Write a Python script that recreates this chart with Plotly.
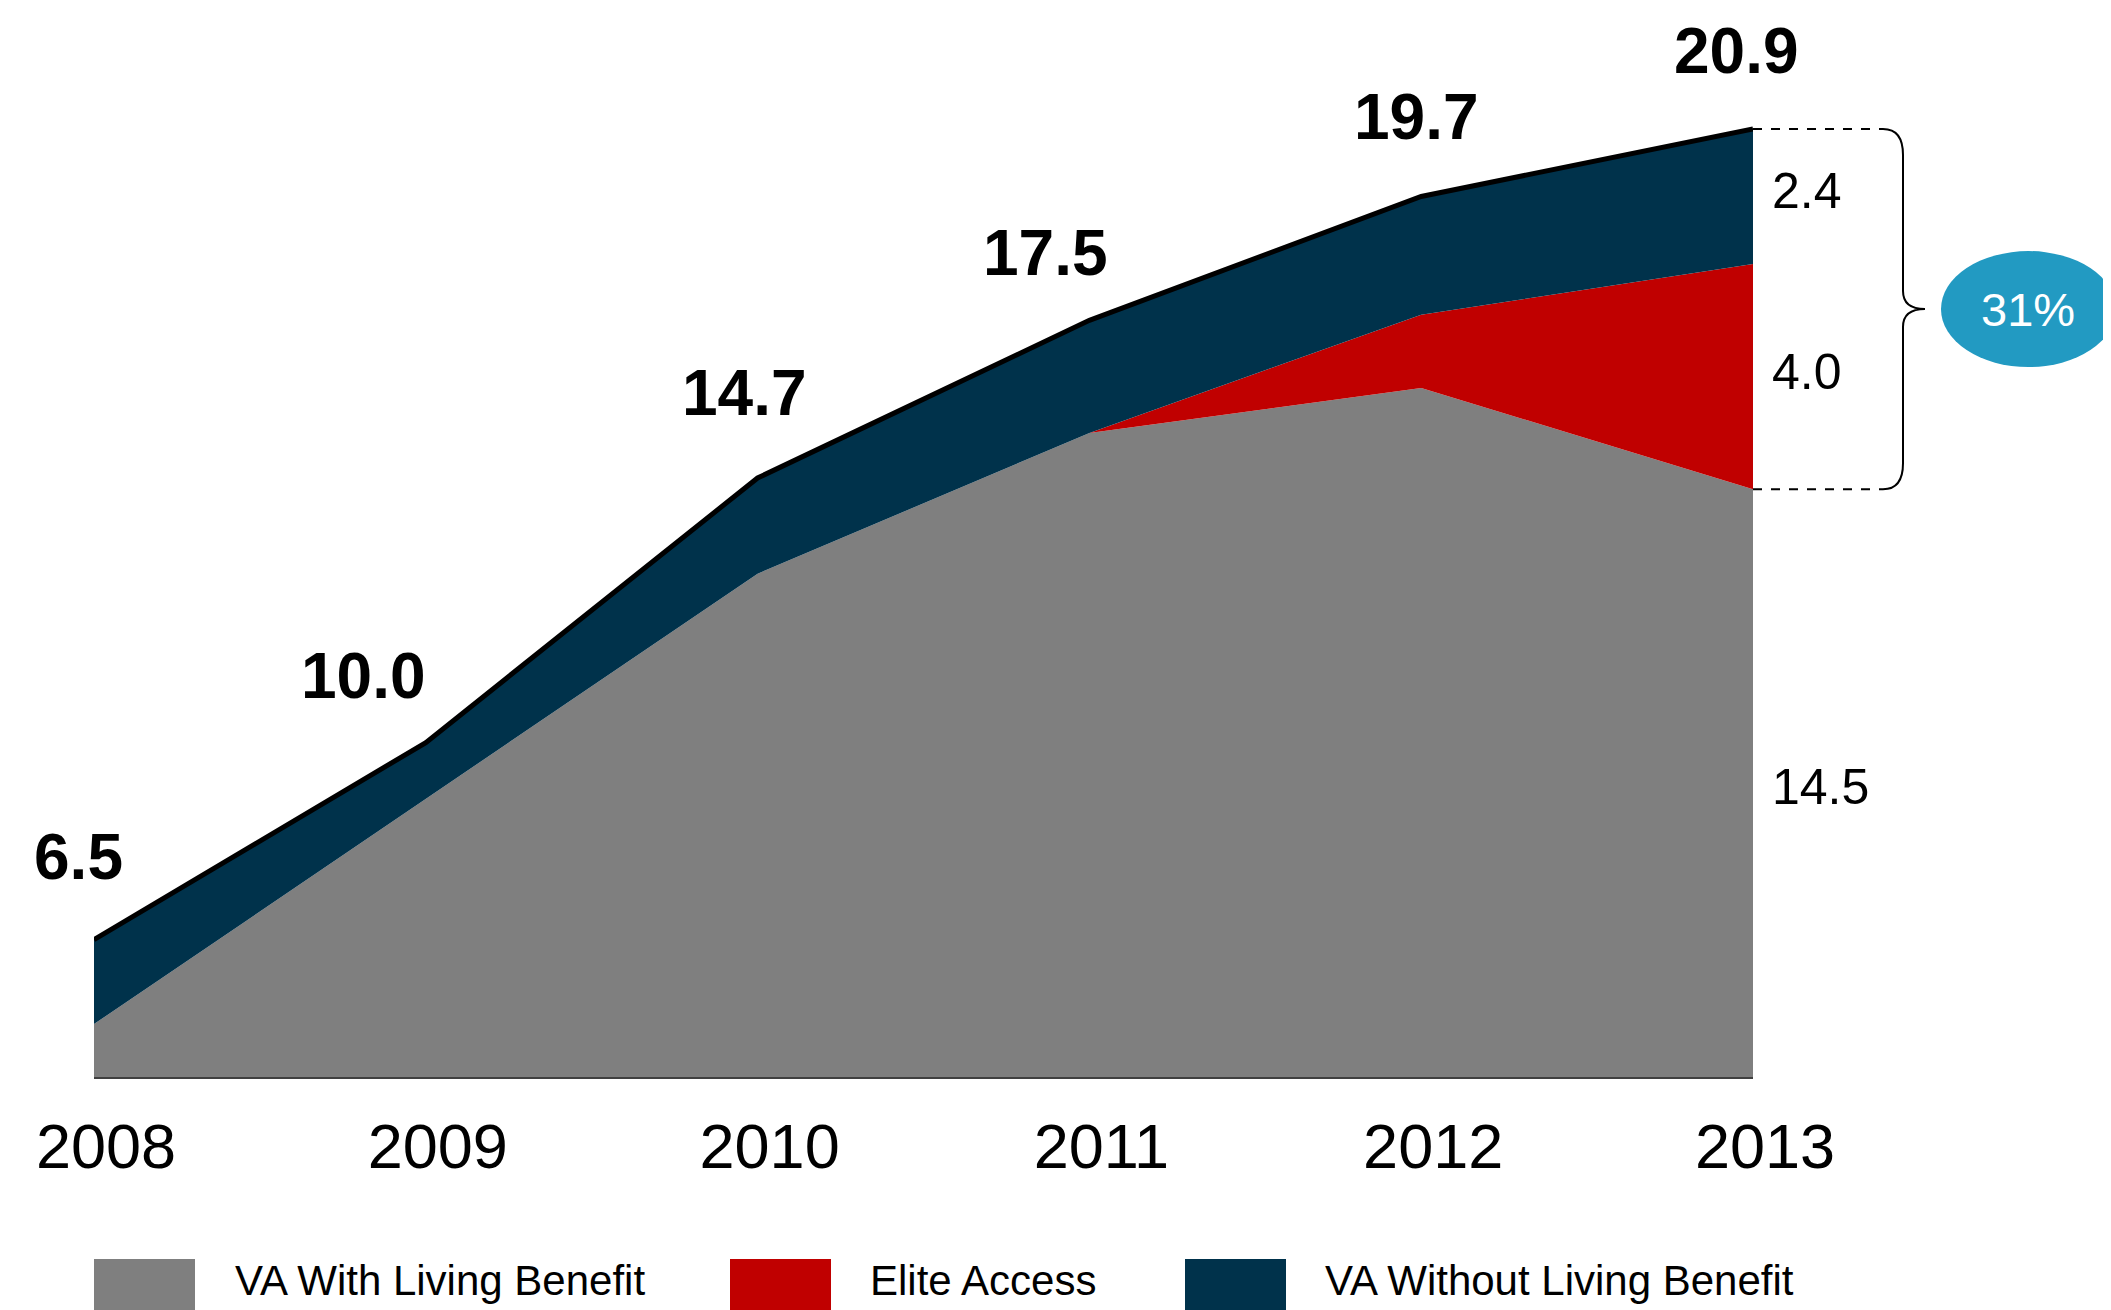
import plotly.graph_objects as go

# data (values in $bn)
years = [2008, 2009, 2010, 2011, 2012, 2013]
totals = [6.5, 10.0, 14.7, 17.5, 19.7, 20.9]
va_with_lb = [5.0, 9.0, 13.0, 15.5, 16.3, 14.5]
elite_access = [0.0, 0.0, 0.0, 0.0, 1.3, 4.0]
va_without_lb = [1.5, 1.0, 1.7, 2.0, 2.1, 2.4]
series_names = ["VA With Living Benefit", "Elite Access", "VA Without Living Benefit"]
year_labels = [str(y) for y in years]

# styling
colors = ["#7f7f7f", "#c00000", "#00324b"]
FONT = "Arial, 'Liberation Sans', sans-serif"
W, H = 2111, 1310
PAGE_OFF = 8                      # default body margin of the html page
PLOT_L, PLOT_R, PLOT_B = 94, 1753, 1077   # target plot box on screen
PX_PER_UNIT = 56.3
Y_MIN = 4.06
Y_MAX = Y_MIN + (PLOT_B - PAGE_OFF) / PX_PER_UNIT
label_dx = [-16, -62, -13, -44, -5, -17]   # offsets of the total labels (px)
label_dy = [83, 67, 85, 67, 79, 78]
seg_dy = [-4, 5, 5]                        # offsets of the 2013 segment labels


def px_x(px):
    return (px - PLOT_L) / (PLOT_R - PLOT_L)


def px_y(py):
    return (PLOT_B - py) / (PLOT_B - PAGE_OFF)


def val_y(v):
    return (v - Y_MIN) / (Y_MAX - Y_MIN)


fig = go.Figure()

for name, vals, color in zip(series_names, [va_with_lb, elite_access, va_without_lb], colors):
    is_top = name == series_names[-1]
    fig.add_trace(go.Scatter(
        x=years,
        y=vals,
        name=name,
        mode="lines",
        stackgroup="one",
        fillcolor=color,
        line=dict(color="black" if is_top else color, width=5 if is_top else 0),
        showlegend=False,
    ))

annotations = []

# bold totals above each year
for yr, tot, dx, dy in zip(years, totals, label_dx, label_dy):
    annotations.append(dict(
        x=yr, y=tot, xref="x", yref="y", text=f"{tot:.1f}", showarrow=False,
        xshift=dx, yshift=dy, yanchor="middle",
        font=dict(family=FONT, size=64, color="black", weight="bold"),
    ))

# 2013 segment values on the right
last_gray, last_red, last_navy = va_with_lb[-1], elite_access[-1], va_without_lb[-1]
seg_mids = [
    (Y_MIN + last_gray) / 2,
    last_gray + last_red / 2,
    last_gray + last_red + last_navy / 2,
]
for mid, val, dy in zip(seg_mids, [last_gray, last_red, last_navy], seg_dy):
    annotations.append(dict(
        x=px_x(1770), y=mid, xref="paper", yref="y", text=f"{val:.1f}",
        showarrow=False, xanchor="left", yanchor="middle", yshift=dy,
        font=dict(family=FONT, size=50, color="black"),
    ))

# brace + bubble showing share of new products
yt = val_y(totals[-1])
yb = val_y(last_gray)
ym = (yt + yb) / 2
share = round(100 * (last_red + last_navy) / totals[-1])
xs, xv, xt = px_x(1883), px_x(1903), px_x(1925)
r = 26 / (PLOT_B - PAGE_OFF)
rm = 18 / (PLOT_B - PAGE_OFF)

shapes = [
    dict(type="line", xref="paper", yref="paper", x0=1, x1=xs, y0=yt, y1=yt,
         line=dict(color="black", width=2, dash="dash")),
    dict(type="line", xref="paper", yref="paper", x0=1, x1=xs, y0=yb, y1=yb,
         line=dict(color="black", width=2, dash="dash")),
    dict(type="path", xref="paper", yref="paper",
         path=(f"M {xs},{yt} Q {xv},{yt} {xv},{yt - r} L {xv},{ym + rm} "
               f"Q {xv},{ym} {xt},{ym} Q {xv},{ym} {xv},{ym - rm} "
               f"L {xv},{yb + r} Q {xv},{yb} {xs},{yb}"),
         line=dict(color="black", width=2)),
    dict(type="circle", xref="paper", yref="paper",
         x0=px_x(1941), x1=px_x(2116), y0=ym - 58 / (PLOT_B - PAGE_OFF),
         y1=ym + 58 / (PLOT_B - PAGE_OFF),
         fillcolor="#229ac2", line=dict(width=0)),
]
annotations.append(dict(
    x=px_x(2028), y=ym, xref="paper", yref="paper", text=f"{share}%",
    showarrow=False, xanchor="center", yanchor="middle",
    font=dict(family=FONT, size=47, color="white"),
))

# manual legend with big swatches
legend_swatch_x = [(94, 195), (730, 831), (1185, 1286)]
legend_text_x = [233, 868, 1323]
for (sx0, sx1), tx, name, color in zip(legend_swatch_x, legend_text_x, series_names, colors):
    shapes.append(dict(type="rect", xref="paper", yref="paper",
                       x0=px_x(sx0), x1=px_x(sx1), y0=px_y(1259), y1=px_y(1330),
                       fillcolor=color, line=dict(width=0)))
    annotations.append(dict(
        x=px_x(tx), y=px_y(1280), xref="paper", yref="paper", text=name,
        showarrow=False, xanchor="left", yanchor="middle",
        font=dict(family=FONT, size=42, color="black"),
    ))

fig.update_layout(
    width=W,
    height=H,
    margin=dict(l=PLOT_L - PAGE_OFF, r=W - (PLOT_R - PAGE_OFF), t=0,
                b=H - (PLOT_B - PAGE_OFF)),
    paper_bgcolor="white",
    plot_bgcolor="white",
    font=dict(family=FONT, color="black"),
    showlegend=False,
    xaxis=dict(
        range=[years[0], years[-1]],
        tickvals=years,
        ticktext=year_labels,
        tickfont=dict(family=FONT, size=63, color="black"),
        ticks="",
        ticklabelstandoff=13,
        ticklabelshift=12,
        showgrid=False,
        zeroline=False,
        showline=True,
        linecolor="#404040",
        linewidth=2,
    ),
    yaxis=dict(range=[Y_MIN, Y_MAX], visible=False, showgrid=False),
    shapes=shapes,
    annotations=annotations,
)

fig.write_html("out.html")
